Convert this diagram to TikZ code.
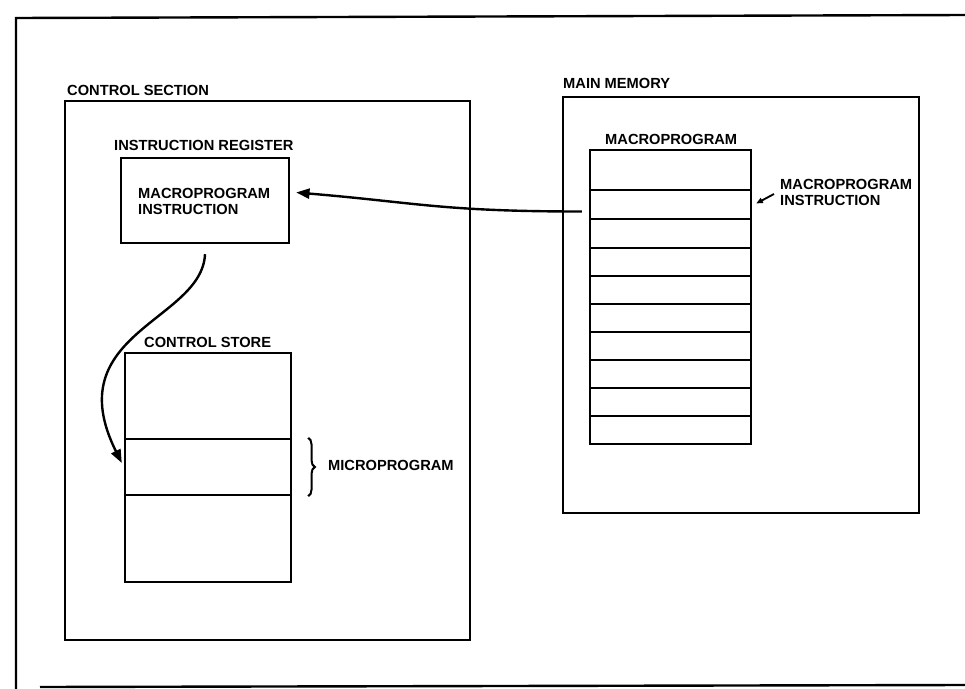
\documentclass[tikz,border=0pt]{standalone}
\usepackage{fontspec}
\setmainfont{Liberation Sans}
\usetikzlibrary{fit,calc,arrows.meta,decorations.pathreplacing}

\tikzset{every picture/.style={line width=1.8pt}}
\tikzset{lbl/.style={anchor=west,inner sep=0.75pt,align=left,font=\bfseries\fontsize{11}{12}\selectfont}}
\tikzset{blk/.style={draw,inner sep=0pt}}
\tikzset{arr/.style={-{Triangle[length=10pt,width=7.5pt]}}}

\begin{document}
\begin{tikzpicture}[x=0.75pt,y=0.75pt,yscale=-1,xscale=1]
\useasboundingbox (0,0) rectangle (965,689);

%Outer frame
\draw (965,15) -- (16,18) -- (16,689) ;
\draw (40,687) -- (965,685) ;

%Control section
\node[blk, fit={(65,101) (470,640)}] (ctrl) {};
\node[lbl] (ctrllbl) at (65,90) {CONTROL SECTION};

%Instruction register
\node[blk, fit={(121,158) (289,243)}] (ireg) {};
\node[lbl] (ireglbl) at (112,145) {INSTRUCTION REGISTER};
\node[lbl] (iregtxt) at (136,201) {MACROPROGRAM\\INSTRUCTION};

%Control store
\node[blk, fit={(125,353) (291,582)}] (cstore) {};
\node[blk, fit={(125,439) (291,495)}] (csmid) {};
\node[lbl] (cstorelbl) at (142,342) {CONTROL STORE};
\draw [line width=1.5pt, decorate,decoration={brace,amplitude=5pt}] ($(csmid.north east)+(16,0)$) -- ($(csmid.south east)+(16,0)$) ;
\node[lbl] (microlbl) at (326,465) {MICROPROGRAM};

%Main memory
\node[blk, fit={(563,97) (919,513)}] (mem) {};
\node[lbl] (memlbl) at (561,83) {MAIN MEMORY};

%Macroprogram table
\node[blk, fit={(590,150) (751,444)}] (macro) {};
\node[lbl] (macrolbl) at (603,139) {MACROPROGRAM};
\foreach \y in {190,219,248,276,304,332,360,388,416}
  \draw (590,\y) -- (751,\y) ;
\node[inner sep=0pt, fit={(590,190) (751,219)}] (mrow2) {};
\node[lbl] (mpilbl) at (778,192) {MACROPROGRAM\\INSTRUCTION};

%Arrows
\draw [arr] ($(mrow2.west)+(-7,7)$) .. controls +(-140,0) and +(120,10) .. ($(ireg.east)+(6,-8)$) ;
\draw [arr] ($(ireg.south)+(0,10)$) .. controls +(-3,67) and +(-65,-130) .. ($(csmid.west)+(-2,-4)$) ;
\draw [-{Triangle[length=5pt,width=4pt]}, line width=1.4pt] ($(mpilbl.west)+(-4,2)$) -- ($(mrow2.east)+(4,-1)$) ;

\end{tikzpicture}
\end{document}
